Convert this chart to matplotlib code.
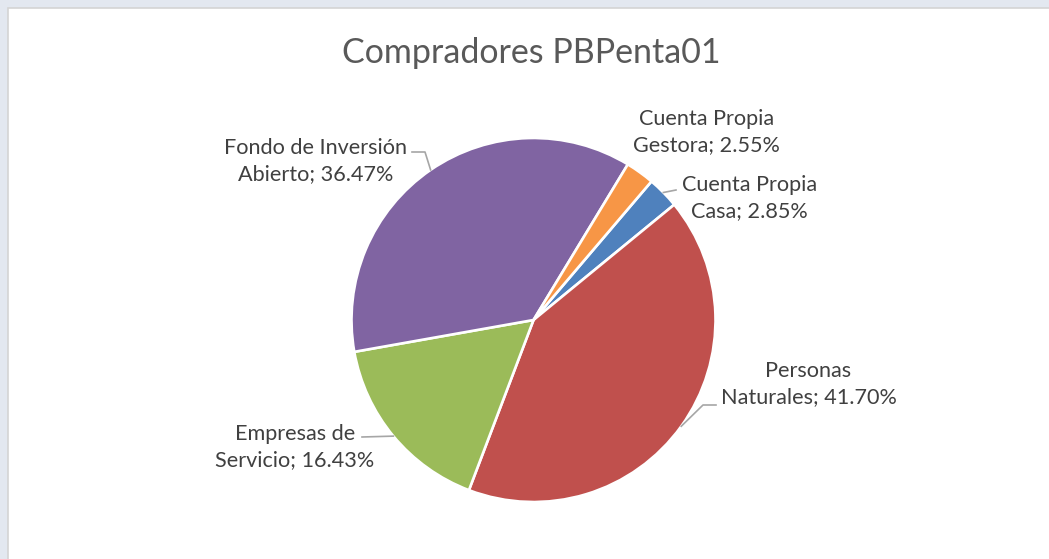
import matplotlib.pyplot as plt
from matplotlib.patches import Rectangle
import numpy as np

# Datos
categorias = ['Cuenta Propia\nCasa', 'Personas\nNaturales', 'Empresas de\nServicio',
              'Fondo de Inversión\nAbierto', 'Cuenta Propia\nGestora']
porcentajes = [2.85, 41.70, 16.43, 36.47, 2.55]
colores = ['#4F81BD', '#C0504D', '#9BBB59', '#8064A2', '#F79646']
titulo = 'Compradores PBPenta01'

W, H = 1049, 559
fig = plt.figure(figsize=(W / 100, H / 100), dpi=100, facecolor='#e3e8f0')
ax = fig.add_axes([0, 0, 1, 1])

def Y(y):
    # coordenada de imagen (y hacia abajo) -> datos
    return H - y

# fondo blanco del grafico
ax.add_patch(Rectangle((7.5, -2), W, Y(7.5) + 2, facecolor='white',
                       edgecolor='#d4d4d4', linewidth=1.2, zorder=0))

cx, cy, r = 533.5, Y(320), 182
wedges, _ = ax.pie(porcentajes, colors=colores, startangle=49.6, counterclock=False,
                   center=(cx, cy), radius=r, frame=True,
                   wedgeprops=dict(edgecolor='white', linewidth=1.9))
ax.set_xlim(0, W)
ax.set_ylim(0, H)
ax.set_aspect('equal')
ax.axis('off')

ax.text(531, Y(53), titulo, ha='center', va='center', fontsize=24.5,
        family='Lato', color='#595959')

# posiciones de etiquetas (centro del bloque) y puntos de inicio de guia
pos_etiq = [(749.5, 198), (808.5, 384), (295, 447), (315.5, 161), (706.5, 132)]
guias = [[(676, 190)], [(716, 405), (703, 405)], [(362, 437)],
         [(412, 152), (425, 152)], None]

for w, cat, p, (lx, ly), g in zip(wedges, categorias, porcentajes, pos_etiq, guias):
    nombre = cat.split('\n')
    txt = nombre[0] + '\n' + nombre[1] + '; ' + f'{p:.2f}%'
    ax.text(lx, Y(ly), txt, ha='center', va='center', multialignment='center',
            fontsize=15.6, family='Lato', color='#404040', linespacing=1.4)
    if g is not None:
        ang = np.deg2rad((w.theta1 + w.theta2) / 2)
        ex, ey = cx + r * np.cos(ang), cy + r * np.sin(ang)
        xs = [q[0] for q in g] + [ex]
        ys = [Y(q[1]) for q in g] + [ey]
        ax.plot(xs, ys, color='#a6a6a6', linewidth=1.2, zorder=5)

fig.savefig('out.png', dpi=100, facecolor=fig.get_facecolor())
